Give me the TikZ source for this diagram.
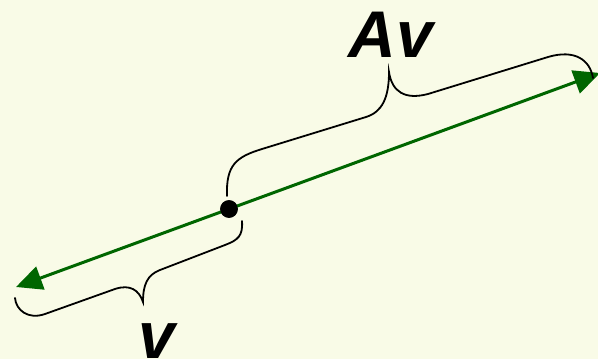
\documentclass[tikz,border=0pt]{standalone}
\usepackage{fontspec}
\setmainfont{Liberation Sans}
\usepackage{tikz}
\usetikzlibrary{arrows.meta}
\usepackage{xcolor}
\definecolor{bgcol}{HTML}{F9FBE7}
\definecolor{veccol}{HTML}{006600}
\newcommand{\veclabel}[1]{\fontsize{66}{66}\selectfont\bfseries\itshape #1}

\begin{document}
\begin{tikzpicture}[x=1pt, y=-1pt,
      vec/.style={draw=veccol, line width=3pt, -{Triangle[length=26pt, width=24pt]}},
      bracepath/.style={draw=black, line width=1.8pt, line cap=round},
      dot/.style={circle, fill=black, inner sep=0pt, minimum size=17.6pt},
      lbl/.style={anchor=base, inner sep=0pt}]
    \fill[bgcol] (0,0) rectangle (598,359);
    \useasboundingbox (0,0) rectangle (598,359);
    \coordinate (tipL) at (16,287);
    \coordinate (tipR) at (600,73);
    \node[dot] (o) at (229,209) {};
    \draw[vec] (o.center) -- (tipL);
    \draw[vec] (o.center) -- (tipR);
    \node[dot] at (o) {};
    % brace over the long vector
    \draw[bracepath] (227,196) .. controls (226,165) and (236,157) .. (262,149) -- (366,117)
        .. controls (382,112) and (389,98) .. (389,72)
        .. controls (392,92) and (405,100) .. (428,94) -- (548,57)
        .. controls (575,49) and (590,60) .. (593,78);
    % brace under the short vector
    \draw[bracepath] (242,221) .. controls (243,236) and (238,240) .. (225,245) -- (160,270)
        .. controls (147,275) and (143,285) .. (143,302)
        .. controls (139,290) and (130,284) .. (115,289) -- (45,314)
        .. controls (28,320) and (16,310) .. (15,298);
    \node[lbl] (av) at (391,57) {\veclabel{Av}};
    \node[lbl] (v) at (157,358) {\veclabel{v}};
  \end{tikzpicture}
\end{document}
